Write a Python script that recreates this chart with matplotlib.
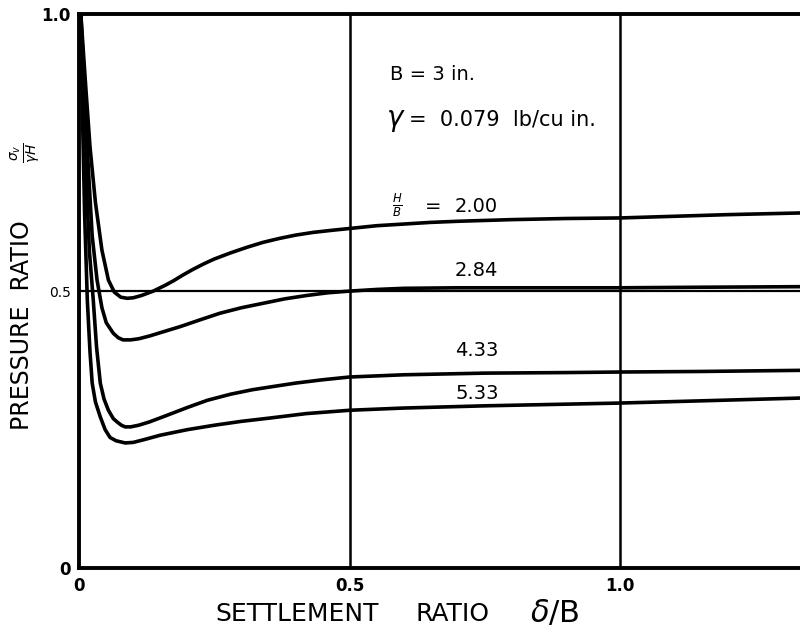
import numpy as np
import matplotlib
matplotlib.use("Agg")
import matplotlib.pyplot as plt

# settlement ratio delta/B and pressure ratio sigma_v/(gamma H)
x_200 = [0.003, 0.012, 0.02, 0.03, 0.042, 0.054, 0.065, 0.077, 0.089, 0.10,
         0.115, 0.137, 0.16, 0.175, 0.19, 0.21, 0.23, 0.25, 0.28, 0.31, 0.34,
         0.37, 0.40, 0.433, 0.47, 0.5, 0.55, 0.6, 0.65, 0.7, 0.8, 0.9, 1.0,
         1.1, 1.2, 1.333]
y_200 = [1.0, 0.87, 0.76, 0.66, 0.574, 0.52, 0.498, 0.489, 0.487, 0.488,
         0.492, 0.50, 0.511, 0.519, 0.528, 0.539, 0.549, 0.558, 0.569, 0.579, 0.588,
         0.595, 0.601, 0.606, 0.610, 0.613, 0.618, 0.621, 0.624, 0.626, 0.629, 0.631, 0.632,
         0.635, 0.638, 0.641]

x_284 = [0.003, 0.01, 0.017, 0.024, 0.033, 0.042, 0.05, 0.063, 0.072, 0.081,
         0.095, 0.11, 0.13, 0.15, 0.187, 0.22, 0.26, 0.30, 0.34, 0.38, 0.42,
         0.46, 0.5, 0.55, 0.6, 0.7, 0.85, 1.0, 1.15, 1.333]
y_284 = [1.0, 0.86, 0.72, 0.60, 0.52, 0.47, 0.443, 0.424, 0.416, 0.412,
         0.412, 0.414, 0.419, 0.425, 0.436, 0.447, 0.46, 0.47, 0.478, 0.486, 0.492,
         0.497, 0.50, 0.503, 0.505, 0.506, 0.506, 0.506, 0.507, 0.508]

x_433 = [0.003, 0.008, 0.013, 0.019, 0.026, 0.032, 0.039, 0.046, 0.054, 0.063,
         0.07, 0.078, 0.085, 0.095, 0.11, 0.13, 0.16, 0.2, 0.237, 0.28, 0.32,
         0.353, 0.4, 0.45, 0.5, 0.6, 0.75, 0.9, 1.0, 1.15, 1.333]
y_433 = [1.0, 0.84, 0.70, 0.57, 0.484, 0.40, 0.334, 0.305, 0.285, 0.27,
         0.264, 0.258, 0.255, 0.255, 0.258, 0.264, 0.275, 0.29, 0.303, 0.314, 0.322,
         0.327, 0.334, 0.34, 0.345, 0.349, 0.352, 0.353, 0.354, 0.355, 0.357]

x_533 = [0.003, 0.006, 0.01, 0.015, 0.02, 0.024, 0.03, 0.039, 0.048, 0.057,
         0.068, 0.085, 0.1, 0.12, 0.15, 0.2, 0.25, 0.3, 0.353, 0.42, 0.5, 0.6,
         0.75, 0.9, 1.0, 1.15, 1.333]
y_533 = [1.0, 0.82, 0.64, 0.484, 0.39, 0.334, 0.30, 0.273, 0.25, 0.236,
         0.23, 0.226, 0.227, 0.232, 0.24, 0.25, 0.258, 0.265, 0.271, 0.279, 0.285, 0.289,
         0.293, 0.296, 0.298, 0.302, 0.307]

curves = [(x_200, y_200), (x_284, y_284), (x_433, y_433), (x_533, y_533)]
labels = ['2.00', '2.84', '4.33', '5.33']
label_pos = [(0.695, 0.652), (0.695, 0.538), (0.695, 0.392), (0.695, 0.316)]

plt.rcParams['font.family'] = ['DejaVu Sans']

fig = plt.figure(figsize=(8, 6.37), dpi=100)
ax = fig.add_axes([0.099, 0.108, 0.901, 0.870])

for xs, ys in curves:
    ax.plot(xs, ys, color='black', lw=2.6, solid_capstyle='round',
            solid_joinstyle='round')

# reference lines
ax.axhline(0.5, color='black', lw=1.6)
for xv in [0.5, 1.0]:
    ax.axvline(xv, color='black', lw=1.8)

ax.set_xlim(0, 1.333)
ax.set_ylim(0, 1.0)
for s in ['left', 'top', 'bottom']:
    ax.spines[s].set_linewidth(2.8)
ax.spines['right'].set_visible(False)

ax.set_xticks([0, 0.5, 1.0])
ax.set_xticklabels(['0', '0.5', '1.0'], fontsize=12, fontweight='bold')
ax.set_yticks([0, 0.5, 1.0])
ax.set_yticklabels(['0', '0.5', '1.0'], fontsize=12, fontweight='bold')
ax.get_yticklabels()[1].set_fontsize(10)
ax.get_yticklabels()[1].set_fontweight('normal')
ax.tick_params(length=0, pad=6)

# annotations
ax.text(0.575, 0.89, 'B = 3 in.', fontsize=14, va='center')
ax.text(0.568, 0.809, r'$\gamma$', fontsize=20, va='center')
ax.text(0.61, 0.809, '=  0.079  lb/cu in.', fontsize=15, va='center')
ax.text(0.578, 0.655, r'$\frac{H}{B}$', fontsize=12, va='center')
ax.text(0.64, 0.652, '=', fontsize=14, va='center')
for lab, (lx, ly) in zip(labels, label_pos):
    ax.text(lx, ly, lab, fontsize=14, va='center')

fig.text(0.028, 0.49, 'PRESSURE  RATIO', rotation=90, fontsize=17,
         ha='center', va='center')
fig.text(0.032, 0.76, r'$\frac{\sigma_v}{\gamma H}$', rotation=90, fontsize=14,
         ha='center', va='center')
fig.text(0.372, 0.036, 'SETTLEMENT', fontsize=18, ha='center', va='center')
fig.text(0.566, 0.036, 'RATIO', fontsize=18, ha='center', va='center')
fig.text(0.694, 0.038, r'$\delta$/B', fontsize=22, ha='center', va='center')

plt.savefig('out.png', dpi=100)
